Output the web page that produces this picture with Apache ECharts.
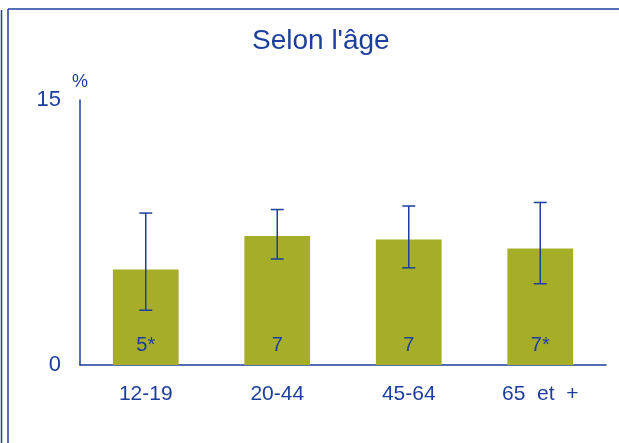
<!DOCTYPE html>
<html>
<head>
<meta charset="utf-8">
<script src="https://cdn.jsdelivr.net/npm/echarts@6/dist/echarts.min.js"></script>
<style>
  html, body { margin: 0; padding: 0; background: #fff; }
  #chart { width: 619px; height: 443px; }
</style>
</head>
<body>
<div id="chart"></div>
<script>
const categories = ['12-19', '20-44', '45-64', '65  et  +']
const values = [5.4, 7.3, 7.1, 6.6]
const barLabels = ['5*', '7', '7', '7*']
const errLow = [3.1, 6.0, 5.5, 4.6]
const errHigh = [8.6, 8.8, 9.0, 9.2]
const yTicks = [0, 15]

const blue = '#1d3f9c'
const font = '"Liberation Sans", Arial, sans-serif'

const chart = echarts.init(document.getElementById('chart'))

const option = {
  animation: false,
  title: {
    text: "Selon l'âge",
    left: 247,
    top: 22,
    textStyle: { color: blue, fontFamily: font, fontSize: 28, fontWeight: 'normal' }
  },
  graphic: [
    { type: 'line', shape: { x1: 1.5, y1: 10, x2: 1.5, y2: 443 }, style: { stroke: blue, lineWidth: 1.5 } },
    { type: 'line', shape: { x1: 8, y1: 9, x2: 8, y2: 443 }, style: { stroke: blue, lineWidth: 1.5 } },
    { type: 'line', shape: { x1: 8, y1: 9, x2: 619, y2: 9 }, style: { stroke: blue, lineWidth: 1.5 } }
  ],
  grid: { left: 80, right: 13, top: 100, bottom: 78 },
  xAxis: {
    type: 'category',
    data: categories,
    axisLine: { lineStyle: { color: blue, width: 1.5 } },
    axisTick: { show: false },
    axisLabel: { color: blue, fontFamily: font, fontSize: 21, margin: 19 }
  },
  yAxis: {
    type: 'value',
    min: yTicks[0],
    max: yTicks[1],
    interval: yTicks[1] - yTicks[0],
    name: '%',
    nameGap: 9,
    nameTextStyle: { color: blue, fontFamily: font, fontSize: 18, align: 'center' },
    axisLine: { show: true, lineStyle: { color: blue, width: 1.5 } },
    axisTick: { show: false },
    splitLine: { show: false },
    axisLabel: { color: blue, fontFamily: font, fontSize: 22, margin: 19 }
  },
  series: [
    {
      type: 'bar',
      data: values,
      barWidth: '50%',
      itemStyle: { color: '#a5ad29' },
      label: {
        show: true,
        position: 'insideBottom',
        distance: 10,
        color: blue,
        fontFamily: font,
        fontSize: 20,
        formatter: p => barLabels[p.dataIndex]
      }
    },
    {
      type: 'custom',
      data: errLow.map((lo, i) => [i, lo, errHigh[i]]),
      renderItem: (params, api) => {
        const lo = api.coord([api.value(0), api.value(1)])
        const hi = api.coord([api.value(0), api.value(2)])
        const half = 6.5
        const style = { stroke: blue, lineWidth: 1.5 }
        return {
          type: 'group',
          children: [
            { type: 'line', shape: { x1: lo[0], y1: lo[1], x2: hi[0], y2: hi[1] }, style },
            { type: 'line', shape: { x1: lo[0] - half, y1: lo[1], x2: lo[0] + half, y2: lo[1] }, style },
            { type: 'line', shape: { x1: hi[0] - half, y1: hi[1], x2: hi[0] + half, y2: hi[1] }, style }
          ]
        }
      },
      z: 10
    }
  ]
}

chart.setOption(option)
</script>
</body>
</html>
